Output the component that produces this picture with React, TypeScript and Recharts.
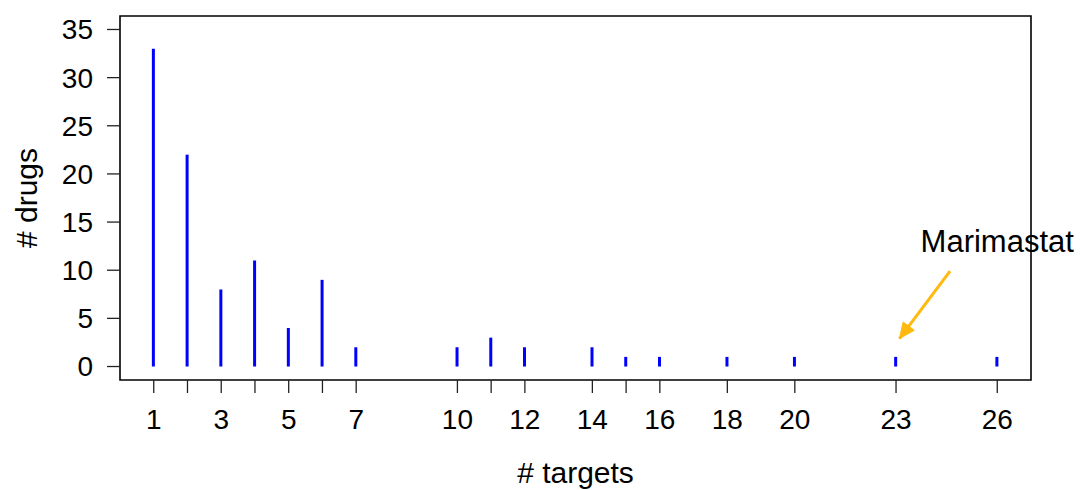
import { ComposedChart, Bar, XAxis, YAxis, ReferenceArea, ReferenceLine, ReferenceDot } from 'recharts'

// number of targets per drug -> number of drugs with that many targets
const targets = [1, 2, 3, 4, 5, 6, 7, 10, 11, 12, 14, 15, 16, 18, 20, 23, 26]
const drugs = [33, 22, 8, 11, 4, 9, 2, 2, 3, 2, 2, 1, 1, 1, 1, 1, 1]

const xLabelTicks = [1, 3, 5, 7, 10, 12, 14, 16, 18, 20, 23, 26]
const yTicks = [0, 5, 10, 15, 20, 25, 30, 35]

const xDomain = [0, 27]
const yDomain = [-1.4, 36.4]

// annotation for Marimastat (23 targets)
const arrowFrom = { x: 24.6, y: 9.9 }
const arrowTo = { x: 23.1, y: 2.9 }
const noteAt = { x: 26, y: 11.9 }
const noteText = 'Marimastat'

const data = targets.map((t, i) => ({ t, n: drugs[i] }))

const FONT = '"Liberation Sans", Arial, Helvetica, sans-serif'
const ARROW = '#FFB90F'

function Arrow(props: any) {
    const { x1, y1, x2, y2 } = props
    const ang = Math.atan2(y2 - y1, x2 - x1)
    const len = 17
    const spread = 0.42
    const ax = x2 - len * Math.cos(ang - spread)
    const ay = y2 - len * Math.sin(ang - spread)
    const bx = x2 - len * Math.cos(ang + spread)
    const by = y2 - len * Math.sin(ang + spread)
    return (
        <g>
            <line x1={x1} y1={y1} x2={x2} y2={y2} stroke={ARROW} strokeWidth={3} />
            <polygon points={`${x2},${y2} ${ax},${ay} ${bx},${by}`} fill={ARROW} stroke={ARROW} strokeWidth={1} />
        </g>
    )
}

export default function App() {
    return (
        <div style={{ position: 'absolute', left: 0, top: 0, width: 1080, height: 490, background: '#fff', fontFamily: FONT }}>
            <ComposedChart width={1080} height={490} data={data} margin={{ top: 16, right: 49, bottom: 0, left: 0 }}>
                <XAxis
                    dataKey="t"
                    type="number"
                    domain={xDomain}
                    ticks={targets}
                    interval={0}
                    allowDataOverflow
                    height={110}
                    axisLine={false}
                    tickSize={13}
                    tickMargin={16}
                    tickLine={{ stroke: '#222', strokeWidth: 1.3 }}
                    tickFormatter={(v: number) => (xLabelTicks.includes(v) ? String(v) : '')}
                    tick={{ fill: '#000', fontSize: 28, fontFamily: FONT }}
                    label={{
                        content: ({ viewBox }: any) => (
                            <text
                                x={viewBox.x + viewBox.width / 2}
                                y={483}
                                textAnchor="middle"
                                fontSize={30}
                                fontFamily={FONT}
                                fill="#000"
                            >
                                # targets
                            </text>
                        ),
                    }}
                />
                <YAxis
                    type="number"
                    domain={yDomain}
                    ticks={yTicks}
                    interval={0}
                    allowDataOverflow
                    width={120}
                    axisLine={false}
                    tickSize={13}
                    tickMargin={14}
                    tickLine={{ stroke: '#222', strokeWidth: 1.3 }}
                    tick={{ fill: '#000', fontSize: 28, fontFamily: FONT }}
                    label={{
                        content: ({ viewBox }: any) => {
                            const cy = viewBox.y + viewBox.height / 2
                            return (
                                <text
                                    x={26}
                                    y={cy}
                                    transform={`rotate(-90, 26, ${cy})`}
                                    textAnchor="middle"
                                    dominantBaseline="central"
                                    fontSize={30}
                                    fontFamily={FONT}
                                    fill="#000"
                                >
                                    # drugs
                                </text>
                            )
                        },
                    }}
                />
                <ReferenceArea
                    x1={xDomain[0]}
                    x2={xDomain[1]}
                    y1={yDomain[0]}
                    y2={yDomain[1]}
                    fill="none"
                    fillOpacity={0}
                    stroke="#000"
                    strokeWidth={1.6}
                />
                <Bar dataKey="n" fill="#0000FF" barSize={3} isAnimationActive={false} />
                <ReferenceLine segment={[arrowFrom, arrowTo]} shape={Arrow} />
                <ReferenceDot
                    x={noteAt.x}
                    y={noteAt.y}
                    r={0}
                    fill="none"
                    stroke="none"
                    label={{
                        content: ({ viewBox }: any) => (
                            <text
                                x={viewBox.x + (viewBox.width || 0) / 2}
                                y={viewBox.y + (viewBox.height || 0) / 2}
                                textAnchor="middle"
                                fontSize={31}
                                fontFamily={FONT}
                                fill="#000"
                            >
                                {noteText}
                            </text>
                        ),
                    }}
                />
            </ComposedChart>
        </div>
    )
}
